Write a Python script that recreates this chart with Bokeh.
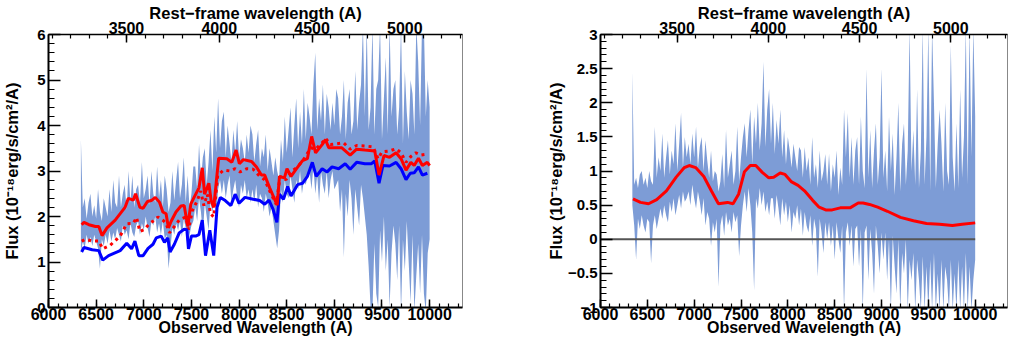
from bokeh.plotting import figure
from bokeh.models import Range1d, LinearAxis, SingleIntervalTicker
from bokeh.layouts import row
from bokeh.embed import file_html
from bokeh.resources import INLINE

# ---------------- data ----------------
REDSHIFT = 0.948

BAND_WAVE = [6340, 6360, 6380, 6400, 6420, 6440, 6460, 6480, 6500, 6520, 6540, 6560, 6580, 6600, 6620,
             6640, 6660, 6680, 6700, 6720, 6740, 6760, 6780, 6800, 6820, 6840, 6860, 6880, 6900, 6920,
             6940, 6960, 6980, 7000, 7020, 7040, 7060, 7080, 7100, 7120, 7140, 7160, 7180, 7200, 7220,
             7240, 7260, 7280, 7300, 7320, 7340, 7360, 7380, 7400, 7420, 7440, 7460, 7480, 7500, 7520,
             7540, 7560, 7580, 7600, 7620, 7640, 7660, 7680, 7700, 7720, 7740, 7760, 7780, 7800, 7820,
             7840, 7860, 7880, 7900, 7920, 7940, 7960, 7980, 8000, 8020, 8040, 8060, 8080, 8100, 8120,
             8140, 8160, 8180, 8200, 8220, 8240, 8260, 8280, 8300, 8320, 8340, 8360, 8380, 8400, 8420,
             8440, 8460, 8480, 8500, 8520, 8540, 8560, 8580, 8600, 8620, 8640, 8660, 8680, 8700, 8720,
             8740, 8760, 8780, 8800, 8820, 8840, 8860, 8880, 8900, 8920, 8940, 8960, 8980, 9000, 9020,
             9040, 9060, 9080, 9100, 9120, 9140, 9160, 9180, 9200, 9220, 9240, 9260, 9280, 9300, 9320,
             9340, 9360, 9380, 9400, 9420, 9440, 9460, 9480, 9500, 9520, 9540, 9560, 9580, 9600, 9620,
             9640, 9660, 9680, 9700, 9720, 9740, 9760, 9780, 9800, 9820, 9840, 9860, 9880, 9900, 9920,
             9940, 9960, 9980, 10000]

# left panel: observed spectrum band (upper / lower envelope)
OBS_HI = [3.7, 2.2, 2.4, 1.95, 2.3, 2.5, 2.0, 2.25, 1.95, 2.6, 2.1, 1.9, 2.4, 2.2, 2.0,
          2.6, 2.1, 2.8, 2.3, 2.2, 2.9, 2.2, 2.5, 2.7, 2.15, 3.0, 2.3, 2.9, 2.2, 2.6,
          2.7, 2.3, 3.2, 2.4, 2.6, 2.9, 2.25, 3.0, 2.5, 2.3, 3.1, 2.4, 2.8, 2.2, 2.9,
          2.6, 2.1, 2.3, 3.0, 2.35, 2.8, 3.2, 2.4, 2.7, 3.3, 2.3, 2.9, 2.2, 2.5, 3.1,
          3.1, 2.6, 3.6, 2.8, 3.3, 3.5, 2.7, 3.2, 3.9, 3.0, 4.2, 3.4, 4.6, 3.5, 4.1,
          4.3, 3.3, 4.0, 3.6, 3.2, 3.9, 3.4, 4.1, 3.3, 3.7, 3.5, 3.2, 3.8, 3.4, 4.0,
          3.8, 3.2, 3.6, 3.9, 3.1, 3.5, 3.3, 3.8, 3.0, 3.5, 3.2, 2.9, 3.3, 3.0, 2.8,
          3.7, 3.2, 4.2, 3.4, 3.9, 4.4, 3.3, 4.0, 4.6, 3.5, 4.3, 3.6, 4.8, 3.7, 4.5,
          4.2, 3.8, 4.9, 5.6, 3.9, 4.6, 4.1, 4.9, 3.8, 4.7, 4.4, 3.9, 4.5, 4.0, 4.8,
          4.6, 3.8, 4.2, 5.0, 3.7, 4.5, 4.8, 3.8, 4.1, 5.2, 3.9, 4.5, 4.9, 6.2, 4.2,
          6.2, 3.9, 4.4, 6.2, 3.8, 4.8, 5.0, 6.2, 3.7, 4.6, 5.5, 3.8, 6.2, 4.2, 4.8,
          5.0, 3.8, 4.4, 6.2, 3.6, 5.2, 4.3, 3.7, 5.0, 4.7, 3.8, 6.2, 5.4, 4.0, 6.2,
          6.2, 4.2, 5.0, 4.4]
OBS_LO = [1.2, 1.45, 1.3, 1.6, 1.4, 1.55, 1.35, 1.6, 1.45, 1.3, 0.85, 1.5, 1.35, 1.6, 1.4,
          1.7, 1.45, 1.65, 1.5, 1.75, 1.6, 1.45, 1.8, 1.6, 1.7, 1.5, 1.85, 1.65, 1.55, 1.8,
          1.9, 1.6, 1.85, 1.7, 2.0, 1.75, 1.55, 1.9, 1.8, 2.0, 1.65, 1.85, 1.6, 1.9, 1.5,
          1.6, 0.85, 1.3, 1.75, 1.6, 1.85, 1.7, 1.9, 1.55, 1.95, 1.75, 1.3, 1.6, 1.8, 1.9,
          2.2, 1.9, 2.4, 2.1, 1.6, 2.3, 2.0, 1.7, 2.3, 2.1, 2.4, 2.0, 2.6, 2.8, 2.5,
          2.8, 2.4, 2.7, 2.9, 2.3, 2.6, 2.8, 2.4, 2.2, 2.7, 2.5, 2.8, 2.4, 2.6, 2.3,
          2.6, 2.3, 2.7, 2.2, 2.5, 2.4, 2.1, 2.5, 2.3, 2.0, 2.2, 1.9, 1.6, 1.3, 1.7,
          2.6, 2.3, 2.8, 2.5, 2.4, 2.9, 2.6, 2.3, 2.8, 2.6, 3.0, 2.5, 2.8, 2.7, 2.9,
          3.0, 2.6, 3.1, 2.5, 2.9, 2.3, 3.0, 2.7, 2.5, 3.0, 2.4, 2.8, 3.0, 2.6, 2.7,
          2.8, 2.1, 2.6, 1.1, 2.5, 2.0, 2.8, 2.4, 1.6, 2.6, 2.2, 1.8, 2.7, 2.4, 2.0,
          1.6, 0.9, 0.0, -0.1, 1.4, 0.3, 0.0, 1.7, 1.0, 2.0, 0.8, 1.5, 0.0, 1.2, 1.8,
          1.4, 0.6, 1.8, -0.1, 1.5, 0.8, 1.9, 1.0, 0.1, 1.6, -0.1, 0.7, 1.4, 0.3, 1.6,
          0.3, -0.1, 1.2, 1.5]

# right panel: residual spectrum band
RES_HI = [2.45, 0.8, 0.9, 0.75, 0.95, 1.0, 0.8, 0.9, 0.75, 1.0, 0.85, 0.8, 1.65, 0.9, 1.2,
          1.0, 1.55, 0.9, 1.2, 1.45, 0.95, 1.3, 1.1, 1.7, 1.0, 1.4, 1.85, 1.05, 1.5, 1.2,
          1.4, 1.1, 1.55, 1.2, 1.65, 1.05, 1.35, 1.5, 1.0, 1.45, 1.15, 0.9, 1.3, 0.85, 1.0,
          0.95, 0.7, 0.85, 1.25, 0.75, 1.6, 0.9, 1.1, 1.3, 0.8, 1.0, 1.65, 0.85, 1.2, 1.5,
          1.7, 1.2, 1.6, 1.9, 1.1, 1.8, 1.4, 2.0, 1.3, 1.7, 2.6, 1.35, 1.9, 2.2, 1.4,
          2.0, 1.25, 1.75, 1.4, 1.9, 1.2, 1.6, 1.1, 1.5, 1.3, 1.05, 1.4, 1.2, 1.0, 1.35,
          1.3, 0.9, 1.35, 1.0, 1.2, 0.8, 1.5, 0.9, 1.1, 0.75, 1.3, 0.85, 1.0, 1.25, 0.8,
          1.25, 0.7, 1.1, 0.9, 1.3, 0.65, 1.05, 0.8, 1.9, 1.2, 1.85, 0.9, 1.5, 0.8, 1.3,
          1.5, 0.8, 1.8, 1.0, 0.75, 2.5, 0.9, 1.6, 0.75, 1.3, 1.7, 0.8, 1.2, 2.5, 0.9,
          1.3, 0.7, 1.8, 1.0, 1.55, 0.65, 1.2, 2.0, 0.7, 1.4, 1.7, 0.8, 1.3, 3.1, 1.0,
          1.6, 0.8, 2.2, 0.75, 1.3, 3.1, 0.8, 1.5, 3.1, 0.7, 3.1, 2.0, 0.75, 1.4, 1.9,
          1.4, 0.7, 2.0, 1.0, 0.8, 2.85, 1.2, 0.7, 1.7, 0.75, 2.2, 0.9, 1.5, 3.1, 0.8,
          3.1, 1.2, 3.1, 1.8]
RES_LO = [0.5, 0.2, -0.3, 0.3, 0.15, 0.35, 0.2, 0.1, 0.3, 0.25, -0.35, 0.2, 0.35, 0.15, 0.3,
          0.45, 0.3, 0.5, 0.35, 0.25, 0.55, 0.4, 0.6, 0.35, 0.5, 0.65, 0.45, 0.7, 0.55, 0.6,
          0.7, 0.5, 0.8, 0.6, 0.45, 0.7, 0.55, 0.35, 0.6, 0.2, 0.4, 0.3, -0.1, 0.25, 0.1,
          0.3, -0.7, 0.2, 0.35, 0.05, 0.4, 0.2, 0.3, 0.1, 0.4, 0.25, 0.35, -0.25, 0.2, 0.5,
          0.7, 0.4, 0.75, 0.5, 0.1, -0.75, 0.6, 0.45, 0.75, 0.5, 0.7, 0.4, 0.55, 0.35, 0.6,
          0.6, 0.3, 0.65, 0.45, 0.2, 0.6, 0.35, 0.55, 0.25, 0.5, 0.1, 0.4, 0.3, 0.5, 0.2,
          0.45, 0.05, 0.4, 0.2, 0.1, 0.35, -0.1, 0.3, 0.15, -0.55, 0.3, 0.1, -0.2, 0.25, 0.0,
          0.25, -0.1, 0.2, -0.3, 0.25, 0.0, -0.2, 0.2, -1.05, 0.1, 0.25, -0.1, 0.2, -0.4, 0.15,
          0.2, -0.4, 0.15, -1.05, 0.1, 0.2, -0.6, 0.15, -0.2, -0.8, 0.2, -0.1, -0.5, 0.1, -0.3,
          0.1, -0.6, 0.0, -1.05, 0.05, -0.4, -0.8, 0.0, -1.05, -0.2, -0.5, 0.0, -1.05, -0.3, -0.6,
          -0.2, -1.05, -0.3, -0.6, -1.05, -0.25, -1.05, -0.4, -1.05, -0.3, -1.05, -0.2, -1.05, -0.5, -1.05,
          -0.3, -1.05, -0.4, -0.6, -1.05, -0.3, -1.05, -0.5, -1.05, -0.3, -1.05, -0.4, -1.05, -0.2, -1.05,
          -0.4, -1.05, -0.6, -0.3]

# left panel: total model (red solid)
RED_W = [6348, 6372, 6424, 6493, 6528, 6562, 6614, 6700, 6803, 6838,
         6890, 6914, 6959, 6993, 7038, 7079, 7121, 7166, 7200, 7234,
         7259, 7286, 7338, 7390, 7424, 7462, 7493, 7528, 7579, 7614,
         7638, 7683, 7707, 7734, 7786, 7872, 7924, 7969, 8003, 8045,
         8131, 8183, 8234, 8269, 8321, 8400, 8424, 8476, 8503, 8545,
         8603, 8666, 8717, 8762, 8803, 8872, 8907, 8941, 9010, 9079,
         9166, 9234, 9321, 9424, 9469, 9521, 9579, 9648, 9700, 9752,
         9803, 9838, 9883, 9924, 9976, 10000]
RED_F = [1.82, 1.87, 1.82, 1.78, 1.78, 1.58, 1.75, 1.92, 2.2, 2.4,
         2.36, 2.5, 2.2, 2.18, 2.33, 2.35, 2.42, 2.31, 2.1, 2.06,
         1.75, 1.89, 2.1, 2.23, 2.24, 1.78, 2.27, 2.42, 2.63, 3.07,
         2.49, 2.73, 2.35, 2.2, 3.28, 3.27, 3.19, 3.46, 3.16, 3.25,
         3.21, 3.09, 2.91, 2.91, 2.63, 2.25, 2.88, 2.85, 3.05, 2.88,
         3.05, 3.23, 3.27, 3.76, 3.4, 3.58, 3.69, 3.51, 3.51, 3.51,
         3.35, 3.48, 3.46, 3.44, 2.91, 3.34, 3.3, 3.4, 3.27, 3.02,
         3.19, 3.12, 3.28, 3.12, 3.19, 3.12]

# left panel: blue solid
BLUE_W = [6348, 6372, 6459, 6528, 6569, 6631, 6752, 6821, 6872, 6907,
          6948, 6993, 7045, 7097, 7131, 7183, 7217, 7252, 7276, 7321,
          7372, 7424, 7452, 7469, 7500, 7545, 7579, 7614, 7648, 7693,
          7734, 7769, 7803, 7855, 7914, 7959, 8000, 8062, 8148, 8217,
          8269, 8314, 8355, 8397, 8424, 8466, 8510, 8545, 8614, 8666,
          8717, 8769, 8810, 8872, 8924, 8976, 9045, 9114, 9166, 9234,
          9321, 9390, 9424, 9469, 9510, 9579, 9648, 9700, 9752, 9797,
          9838, 9883, 9924, 9976]
BLUE_F = [1.22, 1.32, 1.27, 1.25, 1.04, 1.14, 1.25, 1.41, 1.29, 1.46,
          1.14, 1.14, 1.3, 1.39, 1.53, 1.57, 1.43, 1.53, 1.22, 1.39,
          1.64, 1.72, 1.71, 1.29, 1.57, 1.57, 1.6, 1.92, 1.14, 1.7,
          1.14, 2.2, 2.42, 2.35, 2.24, 2.49, 2.29, 2.42, 2.38, 2.35,
          2.27, 2.36, 2.17, 1.87, 2.49, 2.38, 2.66, 2.45, 2.7, 2.73,
          2.88, 3.19, 2.88, 3.05, 2.98, 3.09, 3.05, 3.16, 3.04, 3.19,
          3.16, 3.16, 3.22, 2.73, 3.12, 3.11, 3.19, 3.05, 2.81, 2.95,
          2.96, 3.09, 2.91, 2.95]

# left panel: red dotted
DOT_W = [6348, 6390, 6459, 6528, 6569, 6648, 6752, 6821, 6890, 6924,
         6959, 7003, 7062, 7114, 7148, 7200, 7234, 7269, 7321, 7372,
         7441, 7469, 7510, 7562, 7597, 7631, 7666, 7700, 7734, 7776,
         7838, 7907, 7959, 8010, 8079, 8148, 8217, 8269, 8321, 8390,
         8431, 8493, 8545, 8614, 8683, 8752, 8803, 8872, 8907, 8959,
         9028, 9097, 9166, 9234, 9321, 9407, 9459, 9500, 9579, 9648,
         9700, 9752, 9803, 9855, 9907, 9976]
DOT_F = [1.46, 1.5, 1.46, 1.46, 1.29, 1.37, 1.57, 1.84, 1.85, 1.98,
         1.67, 1.71, 1.85, 1.92, 1.99, 1.92, 1.85, 1.64, 1.78, 1.92,
         1.99, 1.71, 2.13, 2.35, 2.56, 2.24, 2.49, 2.06, 1.99, 2.91,
         3.02, 3.0, 3.05, 2.98, 3.05, 3.04, 2.88, 2.81, 2.56, 2.27,
         2.88, 2.81, 2.98, 3.09, 3.27, 3.51, 3.48, 3.62, 3.72, 3.58,
         3.6, 3.62, 3.48, 3.56, 3.55, 3.53, 3.27, 3.42, 3.44, 3.49,
         3.4, 3.19, 3.32, 3.4, 3.35, 3.37]

# right panel: smooth red curve
SMOOTH_W = [6347, 6427, 6513, 6600, 6704, 6808, 6895, 6947, 7016, 7103,
            7183, 7259, 7356, 7415, 7474, 7537, 7599, 7658, 7727, 7797,
            7849, 7918, 7970, 8040, 8109, 8178, 8265, 8334, 8404, 8473,
            8560, 8664, 8751, 8803, 8872, 8959, 9063, 9202, 9341, 9480,
            9619, 9757, 9861, 10000]
SMOOTH_F = [0.59, 0.54, 0.52, 0.58, 0.71, 0.91, 1.05, 1.08, 1.05, 0.92,
            0.71, 0.52, 0.54, 0.52, 0.66, 0.99, 1.08, 1.08, 0.98, 0.9,
            0.91, 0.97, 0.95, 0.84, 0.79, 0.71, 0.57, 0.47, 0.43, 0.43,
            0.46, 0.46, 0.53, 0.53, 0.51, 0.47, 0.41, 0.32, 0.27, 0.23,
            0.22, 0.2, 0.22, 0.24]

ZERO_X = [6000, 10000]
ZERO_Y = [0, 0]

X_LABEL = "Observed Wavelength (A)"
TOP_LABEL = "Rest\u2212frame wavelength (A)"
Y_LABEL = "Flux (10\u207b\u00b9\u2078erg/s/cm\u00b2/A)"
RIGHT_Y_TICKS = {3: "3", 2.5: "2.5", 2: "2", 1.5: "1.5", 1: "1", 0.5: "0.5",
                 0: "0", -0.5: "\u22120.5", -1: "\u22121"}

# ---------------- style ----------------
FONT = "Liberation Sans"
BAND_COLOR = "#7D9CD6"
X_MIN, X_MAX = 6000, 10345
FIG_H = 338


def style_axis(ax, major_in, minor_in, label_size, title_size):
    ax.axis_line_color = "black"
    ax.axis_line_width = 2
    ax.major_tick_in = major_in
    ax.major_tick_out = 0
    ax.minor_tick_in = minor_in
    ax.minor_tick_out = 0
    ax.major_tick_line_color = "black"
    ax.minor_tick_line_color = "black"
    ax.major_tick_line_width = 1.5
    ax.minor_tick_line_width = 1.2
    ax.major_label_text_font = FONT
    ax.major_label_text_font_style = "bold"
    ax.major_label_text_font_size = label_size
    ax.major_label_text_color = "black"
    ax.axis_label_text_font = FONT
    ax.axis_label_text_font_style = "bold"
    ax.axis_label_text_font_size = title_size
    ax.axis_label_text_color = "black"


def make_panel(width, border_left, border_right, y0, y1, y_interval):
    p = figure(width=width, height=FIG_H, output_backend="svg", toolbar_location=None,
               x_range=Range1d(X_MIN, X_MAX), y_range=Range1d(y0, y1),
               min_border_left=border_left, min_border_right=border_right,
               min_border_top=26, min_border_bottom=30)
    p.grid.visible = False
    p.background_fill_color = "white"
    p.border_fill_color = "white"
    p.outline_line_color = "#888888"
    p.outline_line_width = 1

    xa = p.xaxis[0]
    xa.ticker = SingleIntervalTicker(interval=500, num_minor_ticks=5)
    style_axis(xa, 8, 4, "16px", "16px")
    xa.axis_label = X_LABEL
    xa.major_label_standoff = 0
    xa.axis_label_standoff = -4

    ya = p.yaxis[0]
    ya.ticker = SingleIntervalTicker(interval=y_interval, num_minor_ticks=5)
    style_axis(ya, 12, 6, "15px", "16.5px")
    ya.axis_label = Y_LABEL
    ya.major_label_standoff = 3

    p.extra_x_ranges = {"rest": Range1d(X_MIN / (1 + REDSHIFT), X_MAX / (1 + REDSHIFT))}
    top = LinearAxis(x_range_name="rest",
                     ticker=SingleIntervalTicker(interval=500, num_minor_ticks=5))
    style_axis(top, 8, 4, "16px", "16.5px")
    top.axis_line_width = 1.5
    top.axis_label = TOP_LABEL
    top.major_label_standoff = 1
    top.axis_label_standoff = -3
    p.add_layout(top, "above")
    return p, ya


# left panel
p1, ya1 = make_panel(530, 44, 68, 0, 6, 1)
ya1.axis_label_standoff = 13
p1.varea(x=BAND_WAVE, y1=OBS_LO, y2=OBS_HI, fill_color=BAND_COLOR, fill_alpha=1.0)
p1.line(DOT_W, DOT_F, line_color="red", line_width=3, line_dash="3 4")
p1.line(BLUE_W, BLUE_F, line_color="blue", line_width=3)
p1.line(RED_W, RED_F, line_color="red", line_width=3)

# right panel
p2, ya2 = make_panel(479, 70, 2, -1, 3, 0.5)
ya2.axis_label_standoff = 0
ya2.major_label_overrides = RIGHT_Y_TICKS
p2.varea(x=BAND_WAVE, y1=RES_LO, y2=RES_HI, fill_color=BAND_COLOR, fill_alpha=1.0)
p2.line(ZERO_X, ZERO_Y, line_color="#555555", line_width=2)
p2.line(SMOOTH_W, SMOOTH_F, line_color="red", line_width=3)

layout = row(p1, p2)
open("out.html", "w").write(file_html(layout, INLINE))
